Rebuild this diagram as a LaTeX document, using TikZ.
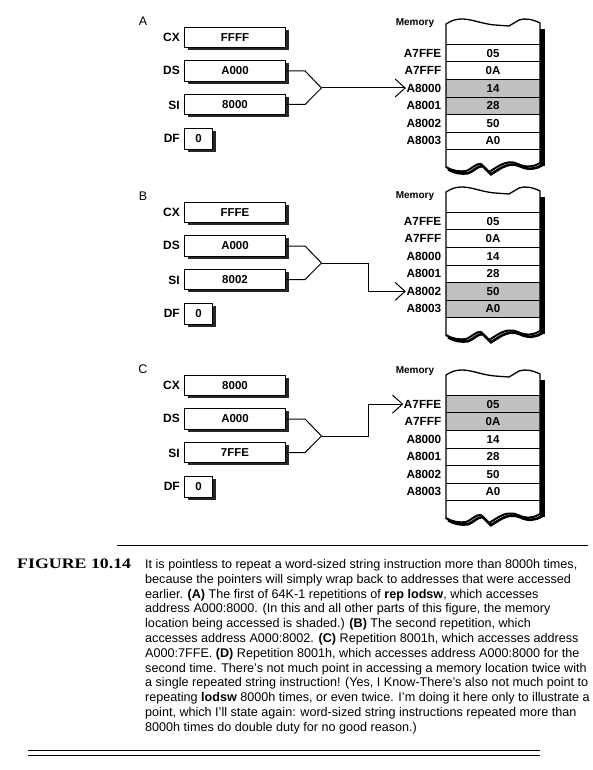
\documentclass[tikz,border=0pt]{standalone}
\usepackage{fontspec}
\setmainfont{Liberation Sans}
\newfontfamily\capserif{Liberation Serif}
\usepackage{graphicx}
\usetikzlibrary{arrows.meta,shadows}
\definecolor{memshade}{RGB}{192,192,192}

\newcommand\MemColumn[4]{%
\begin{scope}[shift={(0,#2)}]
 \foreach \r in {#3}{\fill[memshade] (446,{44.3+17.57*(\r-1)}) rectangle (540,{44.3+17.57*\r});}
 \foreach \k in {0,...,6}{\draw[memline] (446,{44.3+17.57*\k}) -- (540,{44.3+17.57*\k});}
 \fill[black] (540,29) rectangle (544.5,166);
 \draw[line width=2.6pt, shift={(2,2.2)}] (446,167) .. controls (452,171) and (460,172) .. (466,171) .. controls (472,169) and (476,163) .. (481,164) -- (489,172) -- (497,167) .. controls (505,162) and (512,161) .. (518,164) .. controls (526,168) and (534,167) .. (540,163);
 \draw[line width=1.3pt] (446,168) -- (446,24) .. controls (452,20) and (457,19) .. (462,19) .. controls (472,19) and (482,24) .. (495,25) -- (509,26) -- (519,20) .. controls (525,18) and (532,19) .. (540,23) -- (540,163);
 \draw[line width=2pt] (446,167) .. controls (452,171) and (460,172) .. (466,171) .. controls (472,169) and (476,163) .. (481,164) -- (489,172) -- (497,167) .. controls (505,162) and (512,161) .. (518,164) .. controls (526,168) and (534,167) .. (540,163);
 \foreach \i/\ad/\va in {1/A7FFE/05, 2/A7FFF/0A, 3/A8000/14, 4/A8001/28, 5/A8002/50, 6/A8003/A0}{
   \node[addr] (#1m\i) at (442,{44.3+17.57*(\i-0.5)}) {\ad};
   \node[val] (#1v\i) at (493,{44.3+17.57*(\i-0.5)}) {\va};
 }
\end{scope}
\node[memlab] (#1mem) at (415,#4) {Memory};}

\newcommand\RegPanel[5]{%
\begin{scope}[shift={(0,#2)}]
 \node[plab] (#1let) at (143,21.5) {#3};
 \node[reg, minimum width=101pt] (#1cx) at (235,37.5) {#4};
 \node[rlab] (#1cxl) at (180,37) {CX};
 \node[reg, minimum width=101pt] (#1ds) at (235,71) {A000};
 \node[rlab] (#1dsl) at (180,70.5) {DS};
 \node[reg, minimum width=101pt] (#1si) at (235,104.5) {#5};
 \node[rlab] (#1sil) at (180,105) {SI};
 \node[reg, minimum width=28pt] (#1df) at (198.5,139) {0};
 \node[rlab] (#1dfl) at (180,138) {DF};
 \coordinate (#1fork) at (321.5,88);
 \draw[conn] (#1ds.east) -- ++(19,0) -- (#1fork);
 \draw[conn] (#1si.east) -- ++(19,0) -- (#1fork);
\end{scope}}

\begin{document}
\begin{tikzpicture}[x=1pt,y=-1pt,
  reg/.style={draw, line width=1.1pt, fill=white, minimum height=20.5pt, inner sep=0pt,
    font=\bfseries\fontsize{11.5}{12}\selectfont,
    general shadow={fill=black!85, shadow xshift=3.5pt, shadow yshift=-2.7pt}},
  rlab/.style={anchor=east, inner sep=0pt, font=\bfseries\fontsize{12}{12}\selectfont},
  plab/.style={inner sep=0pt, font=\fontsize{12.5}{12}\selectfont},
  addr/.style={anchor=east, inner sep=0.5pt, font=\bfseries\fontsize{11.8}{12}\selectfont},
  val/.style={inner sep=0pt, font=\bfseries\fontsize{11.5}{12}\selectfont},
  memlab/.style={inner sep=0pt, font=\bfseries\fontsize{10}{10}\selectfont},
  memline/.style={line width=1pt},
  conn/.style={line width=1pt},
  arr/.style={conn, -{Straight Barb[length=10pt,width=18pt]}},
  capline/.style={anchor=base west, inner sep=0pt, font=\fontsize{12.6}{14}\selectfont}]
\useasboundingbox[fill=white] (0,0) rectangle (592,770);

\RegPanel{A}{0}{A}{FFFF}{8000}
\RegPanel{B}{175}{B}{FFFE}{8002}
\RegPanel{C}{348}{C}{8000}{7FFE}

\MemColumn{A}{0}{3,4}{23}
\MemColumn{B}{168}{5,6}{196}
\MemColumn{C}{351}{1,2}{371}

\draw[arr] (Afork) -- (Afork -| Am3.west);
\draw[arr] (Bfork) -- ++(46.5,0) |- (Bm5.west);
\draw[arr] (Cfork) -- ++(46.5,0) |- (Cm1.west);

\draw[line width=1pt] (117,545) -- (588,545);
\node[anchor=base west, inner sep=0pt, font=\capserif\bfseries\fontsize{14.5}{14}\selectfont] (fig) at (17,568.5) {\scalebox{1.23}[1]{FIGURE 10.14}};
\node[capline] (l1) at (145,568.5) {It is pointless to repeat a word-sized string instruction more than 8000h times,};
\node[capline] (l2) at (145,583.3) {because the pointers will simply wrap back to addresses that were accessed};
\node[capline] (l3) at (145,598.1) {earlier. {\bfseries (A)} The first of 64K-1 repetitions of {\bfseries rep lodsw}, which accesses};
\node[capline] (l4) at (145,612.9) {address A000:8000. (In this and all other parts of this figure, the memory};
\node[capline] (l5) at (145,627.7) {location being accessed is shaded.) {\bfseries (B)} The second repetition, which};
\node[capline] (l6) at (145,642.5) {accesses address A000:8002. {\bfseries (C)} Repetition 8001h, which accesses address};
\node[capline] (l7) at (145,657.3) {A000:7FFE. {\bfseries (D)} Repetition 8001h, which accesses address A000:8000 for the};
\node[capline] (l8) at (145,672.1) {second time. There's not much point in accessing a memory location twice with};
\node[capline] (l9) at (145,686.9) {a single repeated string instruction! (Yes, I Know-There's also not much point to};
\node[capline] (l10) at (145,701.7) {repeating {\bfseries lodsw} 8000h times, or even twice. I'm doing it here only to illustrate a};
\node[capline] (l11) at (145,716.5) {point, which I'll state again: word-sized string instructions repeated more than};
\node[capline] (l12) at (145,731.3) {8000h times do double duty for no good reason.)};
\draw[line width=1pt] (28,750) -- (540,750);
\draw[line width=1pt] (28,755) -- (540,755);
\end{tikzpicture}
\end{document}
